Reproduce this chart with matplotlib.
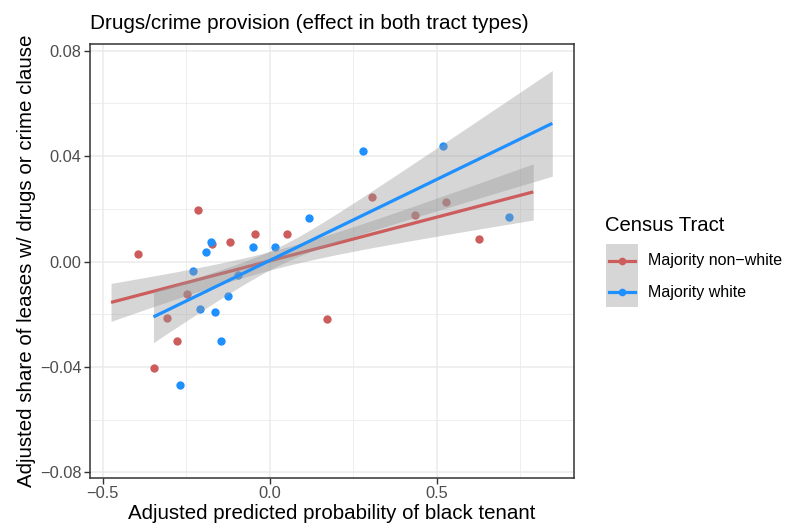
import numpy as np
import matplotlib.pyplot as plt
from matplotlib.patches import Rectangle
from matplotlib.lines import Line2D

plt.rcParams['font.family'] = ['Liberation Sans', 'DejaVu Sans']

# binned points, majority non-white tracts
red_x = [-0.395, -0.215, -0.173, -0.118, -0.043, 0.052, -0.247, -0.308,
         -0.277, -0.345, 0.171, 0.307, 0.436, 0.529, 0.627]
red_y = [0.0030, 0.0194, 0.0066, 0.0074, 0.0103, 0.0103, -0.0123, -0.0213,
         -0.0303, -0.0405, -0.0217, 0.0243, 0.0175, 0.0226, 0.0084]

# binned points, majority white tracts
blue_x = [-0.176, -0.192, -0.229, -0.050, 0.016, 0.118, -0.096, -0.124,
          -0.208, -0.163, -0.145, -0.268, 0.280, 0.519, 0.717]
blue_y = [0.0075, 0.0037, -0.0037, 0.0054, 0.0054, 0.0165, -0.0052, -0.0131,
          -0.0181, -0.0190, -0.0303, -0.0469, 0.0420, 0.0437, 0.0170]

# linear fits: x range, fitted y at the ends, CI half-width at ends and at the narrowest point
red_fit_x = [-0.475, 0.789]
red_fit_y = [-0.0155, 0.0264]
red_ci = [0.0072, 0.0035, 0.01065]

blue_fit_x = [-0.348, 0.846]
blue_fit_y = [-0.0210, 0.0524]
blue_ci = [0.00975, 0.0035, 0.02005]

RED = '#CD5C5C'
BLUE = '#1E90FF'
labels = ['Majority non\u2212white', 'Majority white']


def band(fx, fy, ci, n=100):
    # hyperbolic confidence band around a straight line
    x = np.linspace(fx[0], fx[1], n)
    y = fy[0] + (fy[1] - fy[0]) * (x - fx[0]) / (fx[1] - fx[0])
    hl, h0, hr = ci
    a = np.sqrt(hl**2 - h0**2)
    b = np.sqrt(hr**2 - h0**2)
    k = (a + b) / (fx[1] - fx[0])
    xc = fx[0] + a / k
    half = np.sqrt(h0**2 + (k * (x - xc))**2)
    return x, y, y - half, y + half


fig = plt.figure(figsize=(7.91, 5.29), dpi=100)
ax = fig.add_axes([90/791, 51/529, 484/791, 434/529])

ax.scatter(red_x, red_y, s=36, color=RED, zorder=3, linewidths=0)
ax.scatter(blue_x, blue_y, s=36, color=BLUE, zorder=3, linewidths=0)

for fx, fy, ci, col in [(red_fit_x, red_fit_y, red_ci, RED),
                        (blue_fit_x, blue_fit_y, blue_ci, BLUE)]:
    x, y, lo, hi = band(fx, fy, ci)
    ax.fill_between(x, lo, hi, color='#999999', alpha=0.4, linewidth=0, zorder=4)
    ax.plot(x, y, color=col, linewidth=2.3, zorder=4, solid_capstyle='butt')

ax.set_xlim(-0.538, 0.911)
ax.set_ylim(-0.0821, 0.0825)
ax.set_xticks([-0.5, 0.0, 0.5])
ax.set_xticklabels(['\u22120.5', '0.0', '0.5'])
ax.set_yticks([-0.08, -0.04, 0.0, 0.04, 0.08])
ax.set_yticklabels(['\u22120.08', '\u22120.04', '0.00', '0.04', '0.08'])
ax.set_xticks([-0.25, 0.25, 0.75], minor=True)
ax.set_yticks([-0.06, -0.02, 0.02, 0.06], minor=True)
ax.grid(which='major', color='#EBEBEB', linewidth=1.1, zorder=0)
ax.grid(which='minor', color='#EBEBEB', linewidth=0.6, zorder=0)
ax.set_axisbelow(True)
ax.tick_params(which='major', length=4, width=1, color='#333333', pad=2,
               labelsize=11.8, labelcolor='#4D4D4D')
ax.tick_params(which='minor', length=0)
for sp in ax.spines.values():
    sp.set_color('#333333')
    sp.set_linewidth(1.1)

ax.set_xlabel('Adjusted predicted probability of black tenant', fontsize=14.8, labelpad=2)
ax.set_ylabel('Adjusted share of leases w/ drugs or crime clause', fontsize=14.8, labelpad=3)
ax.set_title('Drugs/crime provision (effect in both tract types)', fontsize=14.9,
             loc='left', pad=11)

# legend
fig.text(605/791, 1 - 225/529, 'Census Tract', fontsize=14.6, va='center', ha='left')
fig.add_artist(Rectangle((606/791, 1 - 307/529), 32/791, 63/529,
                         transform=fig.transFigure, facecolor='#D6D6D6', edgecolor='none'))
for i, (col, lab) in enumerate(zip([RED, BLUE], labels)):
    yk = 1 - (261 + 31 * i) / 529
    fig.add_artist(Line2D([609/791, 635/791], [yk, yk], transform=fig.transFigure,
                          color=col, linewidth=2.3))
    fig.add_artist(Line2D([622/791], [yk], transform=fig.transFigure,
                          color=col, marker='o', markersize=5.5, markeredgewidth=0))
    fig.text(648/791, yk, lab, fontsize=11.5, va='center', ha='left')

fig.savefig('out.png', dpi=100)
